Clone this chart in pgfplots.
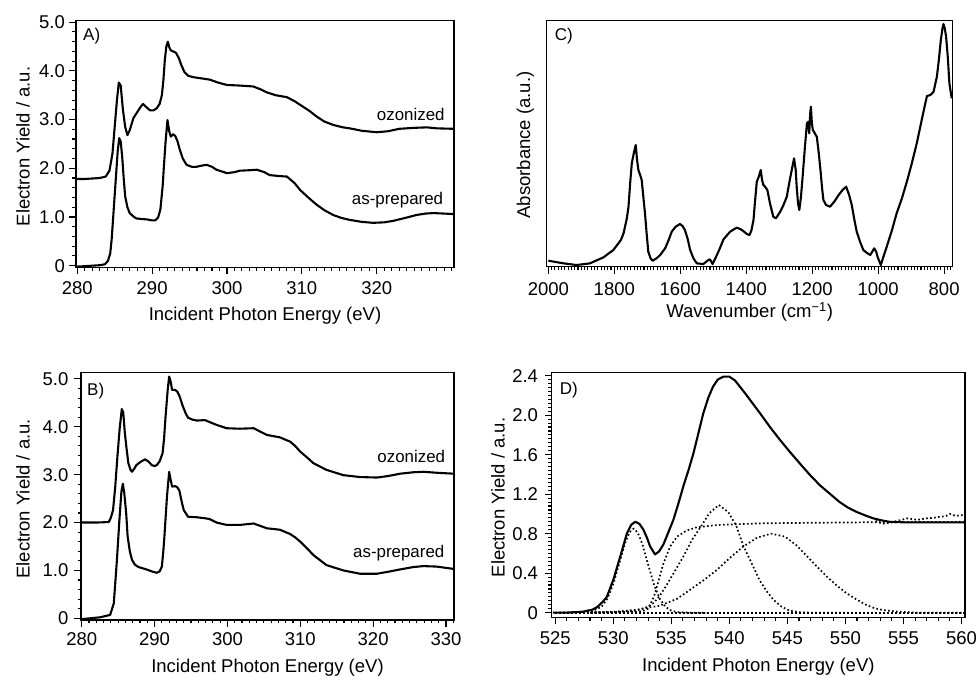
\documentclass[border=0pt]{standalone}
\usepackage{pgfplots}
\pgfplotsset{compat=1.18}
\usepackage{fontspec}
\setmainfont{Liberation Sans}
\newcommand{\tickfont}{\fontsize{18.5}{21}\selectfont}
\newcommand{\annfont}{\fontsize{16.9}{19}\selectfont}
\pgfplotsset{
  panel/.style={
    scale only axis,
    axis line style={line width=1.5pt},
    tick style={line width=1.1pt, black},
    tick align=outside,
    major tick length=7pt,
    minor tick length=3.5pt,
    xtick pos=bottom, ytick pos=left,
    every tick label/.append style={font=\tickfont},
    xticklabel style={inner sep=0pt, anchor=north},
    yticklabel style={inner sep=0pt, anchor=east},
    label style={font=\tickfont},
    /pgf/number format/assume math mode=true,
    clip=true,
  },
  curve/.style={black, line width=2.1pt, line join=round},
  dots/.style={black, line width=1.7pt, dash pattern=on 1.6pt off 2.4pt, line cap=butt},
}
\begin{document}
\begin{tikzpicture}
\useasboundingbox (0pt,0pt) rectangle (977pt,677pt);

% ---------------- Panel A ----------------
\begin{axis}[panel, at={(76pt,409.7pt)}, anchor=south west,
  width=378pt, height=246.6pt,
  xmin=279.83, xmax=330.33, ymin=-0.033, ymax=5.03,
  xtick={280,290,300,310,320}, xticklabels={280,290,300,310,320},
  minor xtick={281,...,330},
  ytick={0,1,2,3,4,5}, yticklabels={0,1.0,2.0,3.0,4.0,5.0},
  minor ytick={0.2,0.4,0.6,0.8,1.2,1.4,1.6,1.8,2.2,2.4,2.6,2.8,3.2,3.4,3.6,3.8,4.2,4.4,4.6,4.8},
  xticklabel style={yshift=-6.7pt}, yticklabel style={xshift=-4pt},
  xlabel={Incident Photon Energy (eV)},
  ylabel={Electron Yield / a.u.},
  xlabel style={at={(axis description cs:0.5,-0.161)}, anchor=north, inner sep=0pt},
  ylabel style={at={(axis description cs:-0.122,0.49)}, anchor=south, inner sep=0pt},
]
\addplot[curve] coordinates {
(279.9,1.78)(281,1.78)(282,1.79)(283,1.80)(283.8,1.83)(284.3,1.95)(284.7,2.3)(285.0,2.85)
(285.3,3.4)(285.55,3.76)(285.8,3.7)(286.1,3.2)(286.4,2.85)(286.7,2.68)(287.0,2.78)(287.5,3.03)
(288.0,3.15)(288.5,3.27)(288.8,3.32)(289.2,3.26)(289.7,3.19)(290.2,3.19)(290.6,3.23)(291.0,3.32)
(291.3,3.5)(291.5,3.8)(291.7,4.23)(291.9,4.5)(292.1,4.6)(292.3,4.48)(292.5,4.42)(292.8,4.40)
(293.2,4.37)(293.6,4.25)(293.9,4.12)(294.3,3.98)(294.8,3.9)(295.5,3.87)(296.4,3.85)(297.7,3.82)
(298.8,3.76)(300,3.71)(301.5,3.70)(303.5,3.68)(304.5,3.62)(305.3,3.56)(306.5,3.5)(308,3.46)
(309,3.38)(309.8,3.3)(311,3.18)(312,3.06)(313,2.96)(314.2,2.89)(315.5,2.84)(316.4,2.82)
(318,2.77)(320,2.74)(321.5,2.76)(323,2.81)(325,2.83)(326.7,2.84)(328,2.82)(330.3,2.81)
};
\addplot[curve] coordinates {
(279.9,-0.02)(281,-0.01)(282,0.0)(283,0.01)(283.7,0.03)(284.1,0.1)(284.4,0.25)(284.6,0.55)
(284.8,1.0)(285.0,1.45)(285.2,1.9)(285.4,2.35)(285.6,2.62)(285.8,2.55)(286.0,2.24)(286.2,1.8)
(286.4,1.42)(286.7,1.2)(287.0,1.08)(287.5,1.01)(287.9,0.97)(288.5,0.96)(289.3,0.95)(290.0,0.93)
(290.4,0.93)(290.8,0.99)(291.1,1.15)(291.4,1.62)(291.6,2.1)(291.8,2.55)(292.05,2.99)(292.3,2.75)
(292.5,2.65)(292.8,2.70)(293.1,2.66)(293.4,2.55)(293.7,2.38)(294.1,2.2)(294.6,2.07)(295.3,2.03)
(295.9,2.03)(296.8,2.06)(297.3,2.07)(298,2.03)(298.6,1.97)(300,1.90)(301,1.92)(301.7,1.95)
(303,1.96)(304,1.97)(305,1.92)(305.7,1.86)(307,1.84)(308,1.83)(309,1.7)(309.8,1.55)
(311,1.38)(312,1.25)(313,1.14)(314.2,1.04)(315.3,0.98)(316.4,0.94)(318,0.9)(319.5,0.88)
(321,0.89)(322.2,0.92)(323.8,0.98)(325.3,1.04)(326.5,1.07)(327.6,1.08)(329,1.07)(330.3,1.06)
};
\node[anchor=base east, inner sep=0pt, font=\annfont] at (axis cs:329.1,2.99) {ozonized};
\node[anchor=base east, inner sep=0pt, font=\annfont] at (axis cs:328.9,1.25) {as-prepared};
\node[anchor=north west, inner sep=0pt, font=\fontsize{17}{19}\selectfont, xshift=7pt, yshift=-7pt] at (rel axis cs:0,1) {A)};
\end{axis}

% ---------------- Panel C ----------------
\begin{axis}[panel, at={(546.7pt,410.3pt)}, anchor=south west,
  width=406pt, height=246pt,
  x dir=reverse,
  xmin=774, xmax=2005, ymin=0, ymax=7.38,
  xtick={800,1000,1200,1400,1600,1800,2000}, xticklabels={800,1000,1200,1400,1600,1800,2000},
  minor xtick={780,790,...,2000},
  ytick=\empty,
  xticklabel style={yshift=-9pt},
  xlabel={Wavenumber (cm\textsuperscript{\char"2212 1})},
  ylabel={Absorbance (a.u.)},
  xlabel style={at={(axis description cs:0.5,-0.1435)}, anchor=north, inner sep=0pt},
  ylabel style={at={(axis description cs:-0.031,0.495)}, anchor=south, inner sep=0pt},
]
\addplot[curve] coordinates {
(2000,0.18)(1954,0.10)(1914,0.05)(1874,0.10)(1833,0.28)(1803,0.50)(1780,0.80)(1772,1.0)(1762,1.45)
(1757,1.8)(1752,2.5)(1747,3.1)(1740,3.45)(1735,3.65)(1731,3.2)(1727,2.9)(1720,2.7)(1717,2.6)
(1712,2.1)(1707,1.6)(1702,1.0)(1697,0.45)(1690,0.25)(1684,0.18)(1672,0.25)(1661,0.35)(1646,0.55)
(1636,0.78)(1626,1.05)(1614,1.2)(1601,1.28)(1593,1.22)(1586,1.1)(1578,0.85)(1570,0.5)(1560,0.25)
(1550,0.10)(1530,0.08)(1515,0.2)(1510,0.22)(1502,0.08)(1489,0.35)(1480,0.55)(1469,0.82)
(1449,1.05)(1429,1.17)(1418,1.13)(1409,1.07)(1398,0.98)(1390,0.95)(1384,1.1)(1378,1.4)
(1373,2.0)(1368,2.55)(1362,2.7)(1356,2.9)(1352,2.6)(1348,2.45)(1343,2.4)(1336,2.3)(1328,1.9)
(1318,1.5)(1310,1.45)(1297,1.65)(1287,1.85)(1277,2.1)(1268,2.6)(1260,3.0)(1255,3.25)(1250,2.9)
(1247,2.4)(1243,1.9)(1239,1.7)(1234,2.1)(1229,2.7)(1222,3.6)(1216,4.3)(1212,4.35)(1209,4.0)
(1206,4.6)(1204,4.8)(1201,4.3)(1198,4.1)(1192,4.0)(1186,3.9)(1180,3.4)(1174,2.8)(1170,2.35)
(1166,2.0)(1158,1.85)(1146,1.8)(1133,1.95)(1120,2.15)(1108,2.3)(1097,2.4)(1088,2.15)(1080,1.85)
(1072,1.4)(1065,1.05)(1055,0.75)(1045,0.5)(1035,0.42)(1024,0.35)(1018,0.45)(1012,0.55)(1006,0.45)
(1002,0.3)(992,0.05)(984,0.3)(974,0.6)(958,1.1)(944,1.6)(928,2.05)(913,2.55)(898,3.1)(883,3.7)
(868,4.4)(856,4.95)(852,5.12)(842,5.15)(832,5.25)(822,5.7)(816,6.2)(810,6.8)(805,7.15)(802,7.28)
(798,7.15)(794,6.9)(789,6.3)(784,5.5)(777,5.05)
};
\node[anchor=north west, inner sep=0pt, font=\fontsize{17}{19}\selectfont, xshift=8pt, yshift=-7pt] at (rel axis cs:0,1) {C)};
\end{axis}

% ---------------- Panel B ----------------
\begin{axis}[panel, at={(81pt,57pt)}, anchor=south west,
  width=373pt, height=247.3pt,
  xmin=279.9, xmax=331.1, ymin=-0.036, ymax=5.13,
  xtick={280,290,300,310,320,330}, xticklabels={280,290,300,310,320,330},
  minor xtick={281,...,331},
  ytick={0,1,2,3,4,5}, yticklabels={0,1.0,2.0,3.0,4.0,5.0},
  minor ytick={0.2,0.4,0.6,0.8,1.2,1.4,1.6,1.8,2.2,2.4,2.6,2.8,3.2,3.4,3.6,3.8,4.2,4.4,4.6,4.8},
  xticklabel style={yshift=-5pt}, yticklabel style={xshift=-5.5pt},
  xlabel={Incident Photon Energy (eV)},
  ylabel={Electron Yield / a.u.},
  xlabel style={at={(axis description cs:0.5,-0.158)}, anchor=north, inner sep=0pt},
  ylabel style={at={(axis description cs:-0.137,0.49)}, anchor=south, inner sep=0pt},
]
\addplot[curve] coordinates {
(279.9,2.0)(282,2.0)(283.7,2.01)(284.0,2.1)(284.3,2.26)(284.6,2.75)(284.9,3.38)(285.2,3.95)
(285.5,4.37)(285.7,4.3)(285.9,3.9)(286.15,3.55)(286.4,3.24)(286.7,3.1)(286.9,3.06)(287.2,3.12)
(287.5,3.2)(288.1,3.27)(288.7,3.32)(289.2,3.27)(289.6,3.2)(290.0,3.18)(290.3,3.2)(290.7,3.28)
(291.1,3.45)(291.3,3.75)(291.5,4.2)(291.8,4.77)(292.0,5.05)(292.2,4.95)(292.4,4.77)(292.8,4.77)
(293.1,4.74)(293.4,4.65)(293.9,4.42)(294.3,4.27)(294.6,4.19)(295.2,4.15)(295.8,4.13)(296.9,4.14)
(297.7,4.09)(298.5,4.04)(299.9,3.97)(301.7,3.96)(303.6,3.97)(304.5,3.9)(305.4,3.83)(307.2,3.78)
(308.6,3.69)(309.3,3.6)(310,3.48)(311,3.35)(311.8,3.24)(313.6,3.1)(315.9,2.99)(318.2,2.95)
(320.5,2.94)(322,2.97)(323.7,3.02)(325.5,3.05)(326.9,3.06)(328.7,3.04)(331.1,3.02)
};
\addplot[curve] coordinates {
(279.9,-0.02)(282.5,0.02)(283.9,0.07)(284.4,0.31)(284.8,1.15)(285.2,2.12)(285.45,2.65)(285.65,2.81)
(285.85,2.6)(286.1,2.2)(286.3,1.71)(286.6,1.4)(286.9,1.22)(287.3,1.12)(287.8,1.07)(288.9,1.02)
(289.6,0.98)(290.3,0.95)(290.7,0.98)(291.0,1.08)(291.2,1.4)(291.35,1.71)(291.7,2.54)(292.0,3.06)
(292.2,2.9)(292.4,2.75)(292.8,2.76)(293.1,2.74)(293.4,2.67)(293.7,2.45)(294.0,2.26)(294.6,2.12)
(295.8,2.11)(296.9,2.09)(297.6,2.07)(298.5,2.0)(299.9,1.95)(301.7,1.95)(303.6,1.98)(304.5,1.93)
(305.4,1.88)(307.2,1.85)(308.6,1.76)(309.3,1.69)(310,1.6)(311,1.45)(311.8,1.32)(313.6,1.11)
(315.9,1.0)(318.2,0.93)(320.5,0.93)(322,0.97)(323.7,1.02)(325.5,1.07)(326.9,1.09)(328.7,1.08)(331.1,1.03)
};
\node[anchor=base east, inner sep=0pt, font=\annfont] at (axis cs:329.9,3.26) {ozonized};
\node[anchor=base east, inner sep=0pt, font=\annfont] at (axis cs:329.8,1.27) {as-prepared};
\node[anchor=north west, inner sep=0pt, font=\fontsize{17}{19}\selectfont, xshift=6pt, yshift=-10pt] at (rel axis cs:0,1) {B)};
\end{axis}

% ---------------- Panel D ----------------
\begin{axis}[panel, at={(551.7pt,59.7pt)}, anchor=south west,
  width=413.3pt, height=244.6pt,
  xmin=524.7, xmax=560.3, ymin=-0.047, ymax=2.43,
  xtick={525,530,...,560}, xticklabels={525,530,535,540,545,550,555,560},
  minor xtick={526,...,560},
  ytick={0,0.4,0.8,1.2,1.6,2.0,2.4}, yticklabels={0,0.4,0.8,1.2,1.6,2.0,2.4},
  minor ytick={0.04,0.08,...,2.42},
  xticklabel style={yshift=-7pt}, yticklabel style={xshift=-6.5pt},
  xlabel={Incident Photon Energy (eV)},
  ylabel={Electron Yield / a.u.},
  xlabel style={at={(axis description cs:0.5,-0.166)}, anchor=north, inner sep=0pt},
  ylabel style={at={(axis description cs:-0.113,0.49)}, anchor=south, inner sep=0pt},
]
\addplot[dots] coordinates {(525,0)(560.3,0)};
\addplot[dots] coordinates {
(525,0)(530,0.005)(532,0.01)(532.5,0.015)(533,0.04)(533.5,0.16)(533.8,0.28)(534.3,0.49)
(534.9,0.67)(535.5,0.77)(536.3,0.83)(537.2,0.865)(539,0.888)(541,0.897)(543,0.905)(547,0.91)
(552,0.915)(560.3,0.92)
};
\addplot[dots] coordinates {
(525,0)(527,0)(528,0.006)(529,0.059)(529.5,0.142)(530,0.288)(530.5,0.489)(531,0.697)
(531.4,0.814)(531.75,0.85)(532.1,0.814)(532.5,0.697)(533,0.489)(533.5,0.288)(534,0.142)
(534.5,0.059)(535,0.02)(535.5,0.006)(536.5,0)(538,0)
};
\addplot[dots] coordinates {
(528,0)(530,0.005)(532,0.02)(533,0.06)(533.5,0.10)(534,0.17)(534.6,0.28)(535.3,0.42)
(536,0.56)(536.8,0.74)(537.6,0.88)(538.3,1.01)(539.1,1.09)(539.9,1.02)(540.6,0.88)(541.2,0.68)
(541.8,0.53)(542.6,0.33)(543.2,0.22)(543.8,0.13)(544.5,0.06)(545.2,0.02)(546,0.005)(547,0)(550,0)
};
\addplot[dots] coordinates {
(528,0)(530.3,0.01)(532,0.03)(534,0.07)(535.5,0.14)(536.6,0.23)(537.8,0.33)(538.9,0.43)
(540.1,0.56)(541.2,0.67)(542.4,0.76)(543.6,0.80)(544.8,0.77)(545.8,0.68)(546.7,0.57)(547.6,0.46)
(548.4,0.365)(549.2,0.28)(550.1,0.196)(551,0.13)(551.8,0.078)(552.5,0.045)(553.3,0.025)
(554.5,0.01)(556,0)(560.3,0)
};
\addplot[dots] coordinates {
(552.6,0.93)(553.2,0.90)(553.8,0.91)(554.5,0.93)(555.3,0.955)(556.2,0.94)(557,0.955)
(557.6,0.96)(558.1,0.97)(558.6,0.975)(559,1.0)(559.5,0.98)(560.2,0.99)
};
\addplot[curve] coordinates {
(524.8,0.0)(526,0.0)(527.4,0.01)(528.2,0.03)(528.6,0.055)(529.1,0.11)(529.45,0.16)(530.0,0.33)
(530.6,0.567)(531.17,0.80)(531.55,0.89)(531.9,0.92)(532.25,0.90)(532.6,0.84)(532.9,0.76)
(533.18,0.67)(533.6,0.59)(533.95,0.62)(534.32,0.69)(534.7,0.80)(535.18,0.94)(535.6,1.10)
(536.04,1.28)(536.5,1.45)(536.9,1.61)(537.3,1.80)(537.76,2.02)(538.2,2.18)(538.6,2.29)
(539.0,2.36)(539.48,2.39)(540.0,2.39)(540.5,2.35)(540.9,2.29)(541.5,2.20)(542.0,2.12)
(542.64,2.02)(543.5,1.88)(544.36,1.75)(545.2,1.63)(546.08,1.51)(546.9,1.40)(547.8,1.29)
(548.7,1.20)(549.5,1.12)(550.2,1.065)(550.96,1.02)(551.7,0.985)(552.4,0.955)(553.1,0.935)
(553.8,0.92)(555,0.915)(560.3,0.915)
};
\node[anchor=north west, inner sep=0pt, font=\fontsize{17}{19}\selectfont, xshift=8pt, yshift=-9pt] at (rel axis cs:0,1) {D)};
\end{axis}
\end{tikzpicture}
\end{document}
